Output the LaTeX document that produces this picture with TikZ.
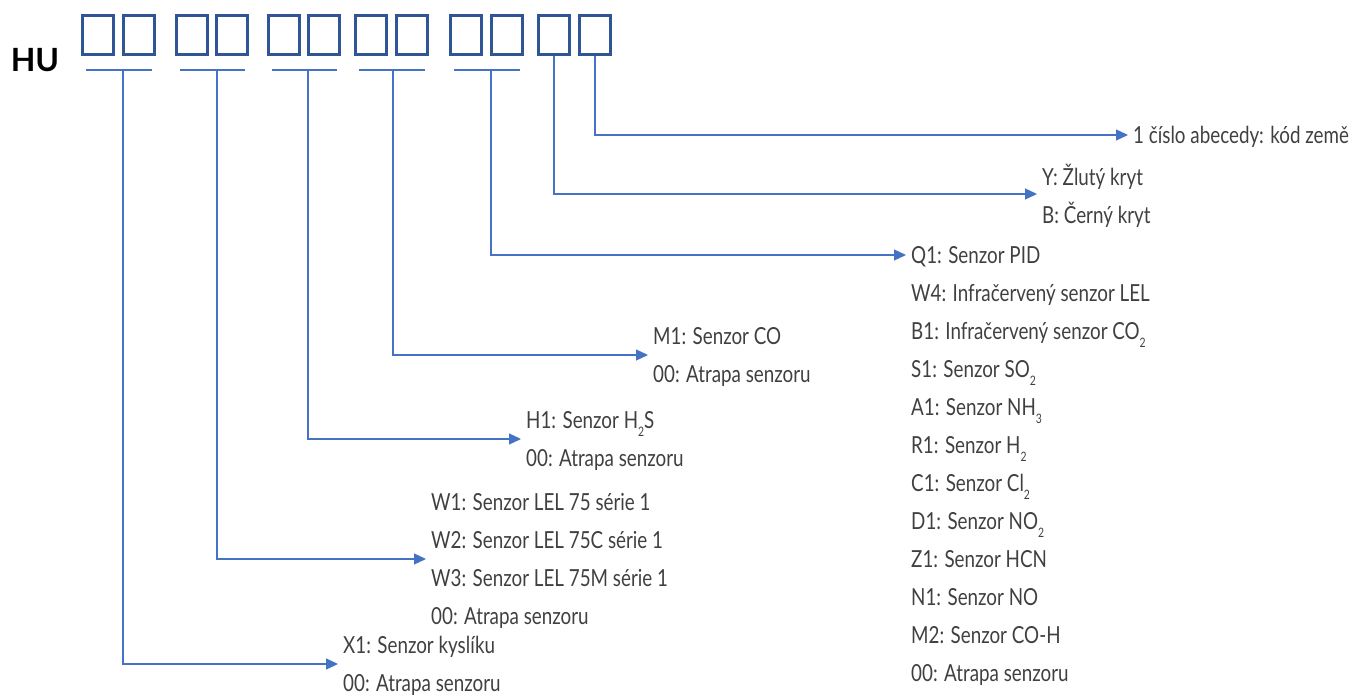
\documentclass[tikz,border=0pt]{standalone}
\usepackage{fontspec}
\setmainfont{Lato}[FakeStretch=0.80]
\newfontfamily\hufont{Lato}
\usetikzlibrary{arrows.meta,positioning,calc}

\definecolor{slotblue}{HTML}{2F5597}
\definecolor{lineblue}{HTML}{4472C4}
\definecolor{txtgray}{HTML}{404040}

% subscript in the sensor names
\newcommand{\subix}[1]{\raisebox{-0.32em}{\fontsize{13}{13}\selectfont #1}}

\begin{document}
\begin{tikzpicture}[
		x=1pt,y=-1pt,
		>={Triangle[length=12pt,width=11pt]},
		slot/.style={draw=slotblue, line width=3pt, minimum width=31pt, minimum height=39pt, inner sep=0pt},
		uline/.style={draw=lineblue, line width=1.3pt},
		conn/.style={->, draw=lineblue, line width=1.3pt, color=lineblue},
		grp/.style={anchor=west, align=left, inner xsep=5pt, inner ysep=0pt, text=txtgray,
			text depth=-4pt, font={\fontsize{23.5}{38}\selectfont}}
		]
		\useasboundingbox (0,0) rectangle (1352,696);
		
		% =========================
		% Code slots
		% =========================
		\node[font={\hufont\bfseries\fontsize{32}{32}\selectfont}, text=black] (hu) at (35,60) {HU};
		
		\foreach \n/\x in {1/98,2/139,3/192,4/232,5/284,6/324,7/371,8/412,9/466,10/507,11/554,12/595}
			\node[slot] (s\n) at (\x,35) {};
		
		% underlines of the pairs
		\foreach \a/\b in {1/2,3/4,5/6,7/8,9/10}
			\draw[uline] ([xshift=5pt,yshift=-14pt]s\a.south west) -- ([xshift=-4pt,yshift=-14pt]s\b.south east);
		
		\coordinate (k1) at (123,70);
		\coordinate (k2) at (217,70);
		\coordinate (k3) at (308,70);
		\coordinate (k4) at (393,70);
		\coordinate (k5) at (491,70);
		
		% =========================
		% Meanings
		% =========================
		\node[grp] (land) at (1128,135) {1 číslo abecedy: kód země};
		\node[grp, text depth=0pt] (cover) at (1037,194) {Y: Žlutý kryt\\B: Černý kryt};
		\node[grp] (qa) at (906,255) {Q1: Senzor PID};
		% base of a multi-line node is its last line
		\node[grp, anchor=base west] (qb) at ($(qa.base west)+(0,418)$) {W4: Infračervený senzor LEL\\
			B1: Infračervený senzor CO\subix{2}\\
			S1: Senzor SO\subix{2}\\
			A1: Senzor NH\subix{3}\\
			R1: Senzor H\subix{2}\\
			C1: Senzor Cl\subix{2}\\
			D1: Senzor NO\subix{2}\\
			Z1: Senzor HCN\\
			N1: Senzor NO\\
			M2: Senzor CO-H\\
			00: Atrapa senzoru};
		\node[grp] (co) at (648,355) {M1: Senzor CO\\00: Atrapa senzoru};
		\node[grp] (hs) at (521,439) {H1: Senzor H\subix{2}S\\00: Atrapa senzoru};
		\node[grp] (lel) at (426,559) {W1: Senzor LEL 75 série 1\\W2: Senzor LEL 75C série 1\\W3: Senzor LEL 75M série 1\\00: Atrapa senzoru};
		\node[grp] (oxy) at (338,664) {X1: Senzor kyslíku\\00: Atrapa senzoru};
		
		% connectors
		\draw[conn] (s12.south) |- (land);
		\draw[conn] (s11.south) |- (cover);
		\draw[conn] (k5) |- (qa);
		\draw[conn] (k4) |- (co);
		\draw[conn] (k3) |- (hs);
		\draw[conn] (k2) |- (lel);
		\draw[conn] (k1) |- (oxy);
		
	\end{tikzpicture}
\end{document}
